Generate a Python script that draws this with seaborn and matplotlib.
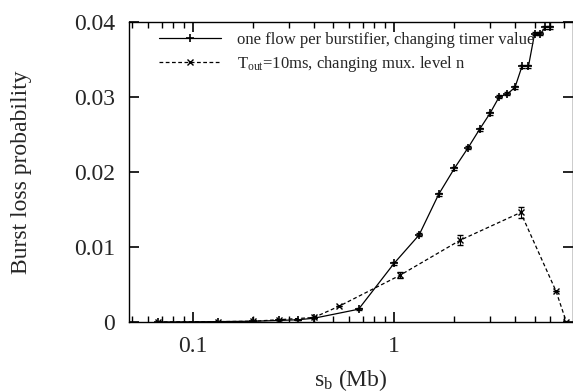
import numpy as np
import pandas as pd
import matplotlib
matplotlib.use("Agg")
import matplotlib.pyplot as plt
import matplotlib.ticker as mticker
import seaborn as sns

# one flow per burstifier, changing timer value
timer_x = [0.0667, 0.1333, 0.2, 0.2667, 0.3333, 0.4, 0.6667, 1.0, 1.3333, 1.6667,
           2.0, 2.3333, 2.6667, 3.0, 3.3333, 3.6667, 4.0, 4.3333, 4.6667, 5.0,
           5.3333, 5.6667, 6.0]
timer_y = [0.0, 0.00005, 0.0001, 0.0002, 0.0003, 0.0005, 0.0017, 0.0078, 0.0116,
           0.0170, 0.0205, 0.0232, 0.0257, 0.0278, 0.0300, 0.0304, 0.0313, 0.0341,
           0.0341, 0.0384, 0.0384, 0.0393, 0.0393]
timer_err = [0.0, 0.0, 0.0, 0.0, 0.0, 0.0, 0.0001, 0.0002, 0.0002, 0.0002,
             0.0002, 0.0002, 0.0002, 0.0002, 0.0002, 0.0002, 0.0002, 0.0002,
             0.0002, 0.0002, 0.0002, 0.0002, 0.0002]

# T_out = 10ms, changing mux level n
mux_x = [0.0667, 0.1333, 0.2, 0.2667, 0.4, 0.5333, 1.0667, 2.1333, 4.2667, 6.4, 7.2]
mux_y = [0.0, 0.00005, 0.0001, 0.0003, 0.0006, 0.0021, 0.0062, 0.0109, 0.0146,
         0.0041, 0.0]
mux_err = [0.0, 0.0, 0.0, 0.0, 0.0, 0.0, 0.0004, 0.0007, 0.0007, 0.0, 0.0]

yticks = [0, 0.01, 0.02, 0.03, 0.04]
ytick_labels = ["0", "0.01", "0.02", "0.03", "0.04"]
xticks = [0.1, 1]
xtick_labels = ["0.1", "1"]

label_timer = "one flow per burstifier, changing timer value"
label_mux = r"T$_{\rm out}$=10ms, changing mux. level n"

sns.set_style("ticks")
plt.rcParams["font.family"] = ["Liberation Serif", "DejaVu Serif"]
plt.rcParams["mathtext.fontset"] = "custom"
plt.rcParams["mathtext.rm"] = "Liberation Serif"
plt.rcParams["mathtext.it"] = "Liberation Serif:italic"

fig = plt.figure(figsize=(5.73, 3.92), dpi=100)
ax = fig.add_axes([0.2251, 0.1786, 0.7749, 0.7653])

df_timer = pd.DataFrame({"x": timer_x, "y": timer_y})
df_mux = pd.DataFrame({"x": mux_x, "y": mux_y})

sns.lineplot(data=df_timer, x="x", y="y", ax=ax, color="black", lw=0.9,
             marker="+", markersize=6, markeredgewidth=1.2,
             markeredgecolor="black", label=label_timer)
sns.lineplot(data=df_mux, x="x", y="y", ax=ax, color="black", lw=0.9,
             linestyle=(0, (3, 2)), marker="x", markersize=4.5,
             markeredgewidth=1.0, markeredgecolor="black", label=label_mux)
ax.errorbar(timer_x, timer_y, yerr=timer_err, fmt="none", ecolor="black",
            elinewidth=0.8, capsize=2)
ax.errorbar(mux_x, mux_y, yerr=mux_err, fmt="none", ecolor="black",
            elinewidth=0.8, capsize=2, linestyle="--")

ax.set_xscale("log")
ax.set_xlim(0.0481, 7.77)
ax.set_ylim(0, 0.04)
ax.set_xticks(xticks)
ax.set_xticklabels(xtick_labels)
ax.set_yticks(yticks)
ax.set_yticklabels(ytick_labels)
ax.xaxis.set_minor_locator(mticker.LogLocator(base=10, subs=np.arange(2, 10)))
ax.xaxis.set_minor_formatter(mticker.NullFormatter())
ax.set_axisbelow(False)

ax.tick_params(axis="both", which="major", direction="in", length=7, width=1.2,
               color="black", top=True, right=True, labelsize=17, pad=10)
ax.tick_params(axis="both", which="minor", direction="in", length=4, width=1.0,
               color="black", top=True, right=True)
for s in ax.spines.values():
    s.set_linewidth(1.0)
    s.set_color("black")

ax.set_xlabel(r"s$_{\rm b}$ (Mb)", fontsize=17, labelpad=7)
ax.set_ylabel("Burst loss probability", fontsize=17, labelpad=30)

leg = ax.legend(loc="upper left", frameon=False, fontsize=12, handlelength=3.7,
                handletextpad=1.0, borderaxespad=0.2, labelspacing=0.35,
                bbox_to_anchor=(0.045, 1.0))

fig.savefig("out.png", dpi=100)
